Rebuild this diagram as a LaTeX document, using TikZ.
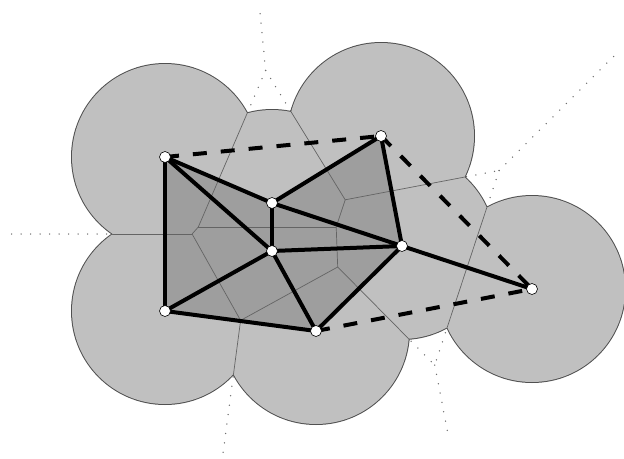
\documentclass[tikz,border=0pt]{standalone}
\usetikzlibrary{calc}
\definecolor{ltgray}{RGB}{192,192,192}
\definecolor{dkgray}{RGB}{158,158,158}
\definecolor{rimgray}{RGB}{80,80,80}
\definecolor{vorgray}{RGB}{100,100,100}
\definecolor{dotgray}{RGB}{110,110,110}
\tikzset{
  site/.style={circle,draw=black,fill=white,line width=0.6pt,inner sep=0pt,minimum size=11pt},
  edgesolid/.style={line width=4pt,black,line cap=round},
  edgedash/.style={line width=4pt,black,dash pattern=on 14pt off 14pt},
  vorin/.style={line width=0.7pt,vorgray},
  vorout/.style={line width=1.5pt,dotgray,line cap=round,dash pattern=on 0pt off 9.5pt},
  rim/.style={line width=2pt,rimgray},
  diskfill/.style={fill=ltgray},
}
\begin{document}
\begin{tikzpicture}[x=1pt,y=-1pt]
\useasboundingbox (0,0) rectangle (624,458);
% sites
\coordinate (p1) at (165,157);
\coordinate (p2) at (381,136);
\coordinate (p3) at (272,203);
\coordinate (p4) at (272,251);
\coordinate (p5) at (402,246);
\coordinate (p6) at (165,311);
\coordinate (p7) at (316,331);
\coordinate (p8) at (532,289);
% Voronoi vertices
\coordinate (w1) at (192.1,234.0);
\coordinate (w2) at (198.3,227.0);
\coordinate (w3) at (265.6,70.4);
\coordinate (w4) at (336.2,227.0);
\coordinate (w5) at (345.2,199.8);
\coordinate (w6) at (240.6,320.4);
\coordinate (w7) at (337.7,267.0);
\coordinate (w8) at (499.1,170.5);
\coordinate (w9) at (434.7,365.1);
% ray ends
\coordinate (r1) at (4,234);
\coordinate (r2) at (259.6,8);
\coordinate (r3) at (615,55);
\coordinate (r4) at (222.8,455);
\coordinate (r5) at (449,439);
% dotted Voronoi edges (outside parts remain visible)
\draw[vorout] (w1) -- (r1);
\draw[vorout] (w3) -- (r2);
\draw[vorout] (w8) -- (r3);
\draw[vorout] (w6) -- (r4);
\draw[vorout] (w9) -- (r5);
\draw[vorout] (w2) -- (w3);
\draw[vorout] (w3) -- (w5);
\draw[vorout] (w5) -- (w8);
\draw[vorout] (w8) -- (w9);
\draw[vorout] (w7) -- (w9);
% union of disks
\foreach \p in {p1,p2,p3,p4,p5,p6,p7,p8}
  \draw[rim] (\p) circle[radius=93pt];
\foreach \p in {p1,p2,p3,p4,p5,p6,p7,p8}
  \fill[diskfill] (\p) circle[radius=93pt];
% triangles of the complex
\fill[dkgray] (p1) -- (p3) -- (p2) -- (p5) -- (p7) -- (p6) -- cycle;
% Voronoi edges inside the union
\begin{scope}
  \clip (p1) circle[radius=93pt] (p2) circle[radius=93pt] (p3) circle[radius=93pt]
        (p4) circle[radius=93pt] (p5) circle[radius=93pt] (p6) circle[radius=93pt]
        (p7) circle[radius=93pt] (p8) circle[radius=93pt];
  \draw[vorin] (w1) -- (r1);
  \draw[vorin] (w1) -- (w2);
  \draw[vorin] (w2) -- (w3);
  \draw[vorin] (w3) -- (r2);
  \draw[vorin] (w3) -- (w5);
  \draw[vorin] (w2) -- (w4);
  \draw[vorin] (w4) -- (w5);
  \draw[vorin] (w5) -- (w8);
  \draw[vorin] (w8) -- (r3);
  \draw[vorin] (w4) -- (w7);
  \draw[vorin] (w1) -- (w6);
  \draw[vorin] (w6) -- (w7);
  \draw[vorin] (w6) -- (r4);
  \draw[vorin] (w7) -- (w9);
  \draw[vorin] (w8) -- (w9);
  \draw[vorin] (w9) -- (r5);
\end{scope}
% Delaunay edges
\draw[edgesolid] (p1) -- (p6);
\draw[edgesolid] (p1) -- (p3);
\draw[edgesolid] (p1) -- (p4);
\draw[edgesolid] (p3) -- (p4);
\draw[edgesolid] (p3) -- (p2);
\draw[edgesolid] (p3) -- (p5);
\draw[edgesolid] (p2) -- (p5);
\draw[edgesolid] (p4) -- (p5);
\draw[edgesolid] (p4) -- (p6);
\draw[edgesolid] (p4) -- (p7);
\draw[edgesolid] (p6) -- (p7);
\draw[edgesolid] (p7) -- (p5);
\draw[edgesolid] (p5) -- (p8);
\draw[edgedash] (p1) -- (p2);
\draw[edgedash] (p2) -- (p8);
\draw[edgedash] (p7) -- (p8);
% sites on top
\node[site] (s1) at (p1) {};
\node[site] (s2) at (p2) {};
\node[site] (s3) at (p3) {};
\node[site] (s4) at (p4) {};
\node[site] (s5) at (p5) {};
\node[site] (s6) at (p6) {};
\node[site] (s7) at (p7) {};
\node[site] (s8) at (p8) {};
\end{tikzpicture}
\end{document}
